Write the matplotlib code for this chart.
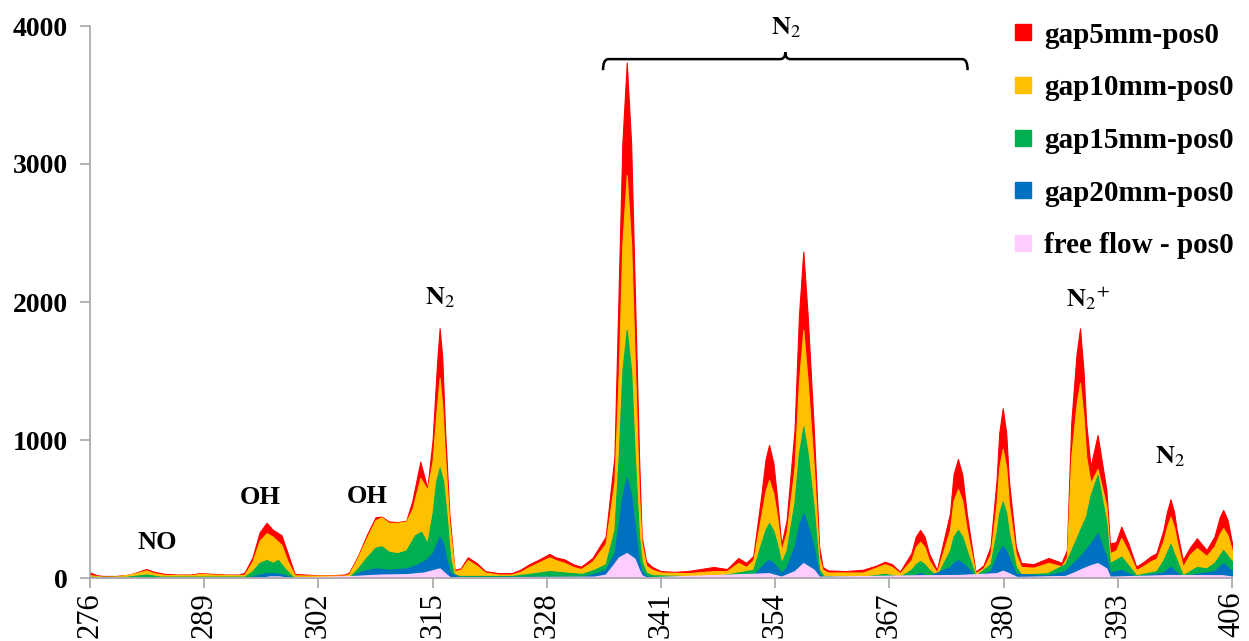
import matplotlib.pyplot as plt
from matplotlib.path import Path
from matplotlib.patches import PathPatch
from matplotlib.lines import Line2D

plt.rcParams['font.family'] = ['Liberation Serif', 'DejaVu Serif']
plt.rcParams['mathtext.fontset'] = 'stix'

# spectra: (wavelength, intensity)
gap5 = [(276, 40), (276.8, 20), (277.5, 15), (279, 15), (280.5, 25), (281.5, 45), (282.4, 65),
        (283.3, 45), (284.5, 30), (286, 25), (287.5, 25), (288.5, 35), (290, 30), (291.5, 25),
        (293, 25), (293.6, 40), (294.5, 150), (295.3, 330), (296.1, 400), (296.8, 350),
        (297.8, 310), (298.5, 180), (299.3, 30), (300.5, 25), (302, 20), (303.5, 20), (305, 25),
        (305.5, 40), (306.5, 160), (307.5, 310), (308.5, 440), (309.2, 445), (310, 410),
        (311, 405), (312, 415), (312.7, 560), (313.6, 843), (314.4, 650), (315.0, 1000),
        (315.5, 1550), (315.8, 1810), (316.1, 1600), (316.4, 1100), (316.9, 470), (317.5, 60),
        (318.2, 70), (319, 150), (320, 110), (321, 50), (322.5, 35), (324, 35), (325, 60),
        (326, 100), (327, 130), (328.3, 175), (329, 150), (330, 135), (331, 100), (331.9, 82),
        (333.2, 145), (334.7, 300), (335.7, 880), (336.2, 2138), (336.6, 3150), (337.1, 3735),
        (337.6, 3150), (338.0, 2138), (338.5, 880), (338.8, 300), (339.3, 120), (340, 80),
        (341, 50), (342.5, 45), (344, 50), (345.5, 65), (347, 80), (348.5, 65), (349.8, 145),
        (350.7, 110), (351.5, 160), (352.4, 590), (352.9, 860), (353.3, 964), (353.8, 830),
        (354.2, 590), (354.7, 240), (355.3, 420), (356.2, 1072), (356.7, 1900), (357.2, 2365),
        (357.7, 1900), (358.4, 1072), (359.0, 227), (359.4, 80), (360, 55), (362, 50), (364, 60),
        (365.5, 90), (366.5, 118), (367.3, 100), (368.2, 46), (369.5, 180), (370.0, 300),
        (370.5, 348), (371.0, 300), (371.5, 180), (372.4, 58), (373.9, 470), (374.3, 750),
        (374.8, 862), (375.3, 750), (375.8, 470), (376.8, 46), (377.7, 90), (378.5, 227),
        (379.2, 710), (379.5, 1050), (379.9, 1230), (380.3, 1050), (380.6, 710), (381.4, 227),
        (382, 109), (383.4, 100), (385.1, 145), (386.6, 111), (387.2, 203), (387.7, 1123),
        (388.3, 1620), (388.7, 1809), (389.1, 1500), (389.4, 1123), (389.9, 807), (390.7, 1036),
        (391.7, 638), (392.1, 250), (392.8, 260), (393.4, 372), (394.2, 250), (395.1, 82),
        (396, 120), (396.7, 155), (397.4, 180), (398.2, 350), (398.6, 480), (399, 570),
        (399.4, 480), (399.7, 350), (400.4, 130), (401.2, 220), (402, 288), (403.1, 203),
        (404, 300), (404.6, 440), (405, 493), (405.5, 420), (406, 253)]

gap10 = [(276, 20), (277.5, 10), (279, 12), (280.5, 25), (281.5, 40), (282.4, 55), (283.3, 35),
         (284.5, 22), (287.5, 20), (288.5, 30), (290, 25), (293, 20), (293.6, 25), (294.5, 120),
         (295.3, 270), (296.1, 325), (296.8, 300), (297.8, 240), (298.5, 120), (299.3, 20),
         (300.5, 18), (305, 18), (305.5, 30), (306.5, 150), (307.5, 290), (308.5, 420),
         (309.2, 440), (310, 400), (311, 400), (312, 410), (312.7, 500), (313.6, 725),
         (314.4, 640), (315.0, 850), (315.5, 1250), (315.8, 1450), (316.1, 1250), (316.4, 900),
         (316.9, 400), (317.5, 50), (318.2, 60), (319, 130), (320, 90), (321, 40), (322.5, 25),
         (324, 25), (325, 45), (326, 80), (327, 110), (328.3, 150), (329, 130), (330, 110),
         (331, 80), (331.9, 65), (333.2, 120), (334.7, 250), (335.7, 700), (336.2, 1500),
         (336.6, 2420), (337.1, 2920), (337.6, 2420), (338.0, 1600), (338.5, 600), (338.8, 250),
         (339.3, 90), (340, 60), (341, 40), (344, 35), (347, 50), (348.5, 50), (349.8, 110),
         (350.7, 80), (351.5, 130), (352.4, 450), (352.9, 630), (353.3, 710), (353.8, 610),
         (354.2, 450), (354.7, 200), (355.3, 330), (356.2, 800), (356.7, 1420), (357.2, 1797),
         (357.7, 1420), (358.4, 800), (359.0, 150), (359.4, 60), (360, 40), (364, 40),
         (366.5, 100), (367.3, 80), (368.2, 35), (369.5, 130), (370.0, 225), (370.5, 263),
         (371.0, 225), (371.5, 130), (372.4, 40), (373.9, 350), (374.3, 560), (374.8, 645),
         (375.3, 560), (375.8, 350), (376.8, 35), (377.7, 70), (378.5, 170), (379.2, 540),
         (379.5, 800), (379.9, 935), (380.3, 800), (380.6, 540), (381.4, 170), (382, 80),
         (383.4, 75), (385.1, 110), (386.6, 85), (387.2, 150), (387.7, 880), (388.3, 1260),
         (388.7, 1415), (389.1, 1170), (389.4, 880), (389.9, 690), (390.7, 790), (391.7, 520),
         (392.1, 180), (392.8, 200), (393.4, 290), (394.2, 190), (395.1, 58), (396, 90),
         (396.7, 120), (397.4, 140), (398.2, 270), (398.6, 370), (399, 444), (399.4, 370),
         (399.7, 270), (400.4, 82), (401.2, 170), (402, 217), (403.1, 160), (404, 230),
         (404.6, 320), (405, 362), (405.5, 310), (406, 200)]

gap15 = [(276, 8), (280, 8), (282.4, 25), (284, 10), (293.6, 10), (294.5, 50), (295.3, 110),
         (296.1, 130), (296.8, 110), (297.4, 130), (298.3, 60), (299.1, 8), (305.5, 5),
         (306.5, 70), (307.5, 150), (308.5, 220), (309.2, 230), (310, 190), (311, 180), (312, 200),
         (313, 310), (313.7, 335), (314.4, 253), (315.0, 470), (315.4, 700), (315.8, 800),
         (316.2, 700), (316.6, 450), (317.0, 150), (317.4, 30), (318, 15), (324, 15), (326, 30),
         (328.3, 50), (330, 40), (332, 30), (333.4, 60), (334.7, 100), (335.7, 350), (336.2, 900),
         (336.6, 1500), (337.1, 1797), (337.6, 1500), (338.0, 900), (338.5, 300), (338.8, 120),
         (339.3, 40), (340, 20), (347, 10), (349.8, 40), (351.5, 60), (352.4, 250), (352.9, 350),
         (353.3, 398), (353.8, 340), (354.2, 250), (354.7, 110), (355.3, 200), (356.2, 550),
         (356.7, 900), (357.2, 1097), (357.7, 900), (358.4, 500), (359.0, 60), (359.5, 15),
         (364, 10), (366.5, 30), (368.2, 10), (369.5, 60), (370.0, 100), (370.5, 123),
         (371.0, 100), (371.5, 60), (372.4, 15), (373.9, 200), (374.3, 300), (374.8, 348),
         (375.3, 300), (375.8, 200), (376.8, 15), (378.5, 100), (379.2, 330), (379.5, 470),
         (379.9, 553), (380.3, 470), (380.6, 330), (381.4, 80), (382, 25), (385, 35), (387, 100),
         (387.7, 200), (388.7, 348), (389.4, 450), (389.9, 600), (390.7, 746), (391.7, 400),
         (392.1, 108), (393.4, 155), (395.1, 20), (397.4, 50), (398.2, 130), (399, 246),
         (399.7, 130), (400.4, 20), (402, 80), (403.1, 70), (404, 110), (405, 203), (406, 120)]

gap20 = [(276, 3), (294, 3), (295, 20), (296, 35), (297, 35), (298, 25), (299, 3), (305.5, 3),
         (306, 20), (307, 50), (308.5, 70), (310, 60), (312, 70), (313, 90), (314.2, 130),
         (315, 180), (315.8, 300), (316.2, 250), (316.6, 130), (317, 40), (318, 8), (332, 10),
         (333.4, 30), (334.7, 60), (335.7, 180), (336.2, 400), (336.6, 600), (337.1, 728),
         (337.6, 600), (338.0, 380), (338.5, 120), (338.8, 50), (339.3, 15), (340, 5), (349, 5),
         (349.8, 15), (351.5, 20), (352.4, 80), (352.9, 115), (353.3, 130), (353.8, 110),
         (354.2, 80), (354.7, 35), (355.3, 80), (356.2, 230), (356.7, 380), (357.2, 470),
         (357.7, 380), (358.4, 220), (359, 30), (359.5, 5), (369.5, 15), (370.5, 36), (371.5, 15),
         (373.9, 80), (374.3, 110), (374.8, 130), (375.3, 110), (375.8, 80), (376.8, 10),
         (378.5, 50), (379.2, 150), (379.5, 195), (379.9, 232), (380.3, 195), (380.6, 150),
         (381.4, 30), (385, 20), (387, 50), (388.7, 155), (389.9, 250), (390.7, 324), (391.7, 150),
         (392.1, 40), (393.4, 58), (395, 10), (398.2, 40), (399, 82), (399.7, 40), (400.4, 10),
         (402, 30), (404, 50), (405, 108), (406, 50)]

free_flow = [(276, 3), (295.5, 3), (296.5, 12), (297.5, 12), (298.5, 3), (306, 15), (309, 25),
             (312, 28), (314, 40), (315.8, 70), (316.5, 30), (317, 5), (333.4, 10), (334.7, 25),
             (335.5, 90), (336.2, 150), (337.1, 181), (338.0, 140), (338.5, 60), (338.8, 20),
             (339.3, 5), (353.3, 35), (354.7, 10), (356.2, 50), (357.2, 108), (358.4, 60),
             (359, 10), (370.5, 20), (374.8, 22), (379.2, 35), (379.9, 53), (380.6, 35),
             (381.5, 8), (387, 15), (388, 40), (389, 70), (390, 95), (390.7, 108), (391.7, 70),
             (392.1, 10), (399, 22), (405, 20), (406, 10)]

series = [gap5, gap10, gap15, gap20, free_flow]
labels = ['gap5mm-pos0', 'gap10mm-pos0', 'gap15mm-pos0', 'gap20mm-pos0', 'free flow - pos0']
colors = ['#FF0000', '#FFC000', '#00B050', '#0070C0', '#FFCCFF']

x_ticks = list(range(276, 407, 13))
y_ticks = [0, 1000, 2000, 3000, 4000]

# band labels (text, wavelength, intensity)
bands = [('NO', 283.6, 260), ('OH', 295.4, 580), ('OH', 307.6, 590),
         (r'$\mathbf{N}_2$', 315.9, 2030), (r'$\mathbf{N}_2$', 355.2, 3990),
         (r'$\mathbf{N}_{2}{}^{+}$', 389.6, 2030), (r'$\mathbf{N}_2$', 399.0, 880)]
brace_x = (334.4, 375.9)
brace_y = 3760

fig = plt.figure(figsize=(12.49, 6.41), dpi=100)
ax = fig.add_axes([90 / 1249, 1 - 578 / 641, 1142 / 1249, 552 / 641])

for data, col in zip(series, colors):
    xs = [p[0] for p in data]
    ys = [p[1] for p in data]
    ax.fill_between(xs, 0, ys, color=col, linewidth=0.8, edgecolor=col)

ax.set_xlim(276, 406)
ax.set_ylim(0, 4000)
ax.set_xticks(x_ticks)
ax.set_xticklabels([str(t) for t in x_ticks], rotation=90, fontsize=22)
ax.set_yticks(y_ticks)
ax.set_yticklabels([str(t) for t in y_ticks], fontsize=20, fontweight='bold')
for s in ['top', 'right']:
    ax.spines[s].set_visible(False)
for s in ['left', 'bottom']:
    ax.spines[s].set_color('#A6A6A6')
    ax.spines[s].set_linewidth(1.2)
ax.tick_params(axis='both', direction='out', length=7, width=1.2, color='#A6A6A6')
ax.tick_params(axis='y', pad=9)
ax.tick_params(axis='x', pad=3)

for txt, xv, yv in bands:
    ax.text(xv, yv, txt, ha='center', va='center', fontsize=19, fontweight='bold')

# curly bracket over the N2 second positive bands
x0, x1 = brace_x
xm = (x0 + x1) / 2
h = 80
verts = [(x0, brace_y - h), (x0, brace_y), (x0 + 0.6, brace_y),
         (xm - 0.6, brace_y), (xm, brace_y), (xm, brace_y + 50),
         (xm, brace_y), (xm + 0.6, brace_y),
         (x1 - 0.6, brace_y), (x1, brace_y), (x1, brace_y - h)]
codes = [Path.MOVETO, Path.CURVE3, Path.CURVE3, Path.LINETO, Path.CURVE3, Path.CURVE3,
         Path.CURVE3, Path.CURVE3, Path.LINETO, Path.CURVE3, Path.CURVE3]
ax.add_patch(PathPatch(Path(verts, codes), facecolor='none', edgecolor='black',
                       linewidth=1.8, clip_on=False))

handles = [Line2D([], [], linestyle='none', marker='s', markersize=11,
                  markerfacecolor=c, markeredgecolor=c) for c in colors]
fig.legend(handles, labels, loc='upper left', bbox_to_anchor=(1003 / 1249, 1 - 10 / 641),
           frameon=False, prop={'size': 21, 'weight': 'bold'}, handlelength=0.6,
           handletextpad=0.4, labelspacing=0.88, borderaxespad=0)

fig.savefig('out.png', dpi=100)
